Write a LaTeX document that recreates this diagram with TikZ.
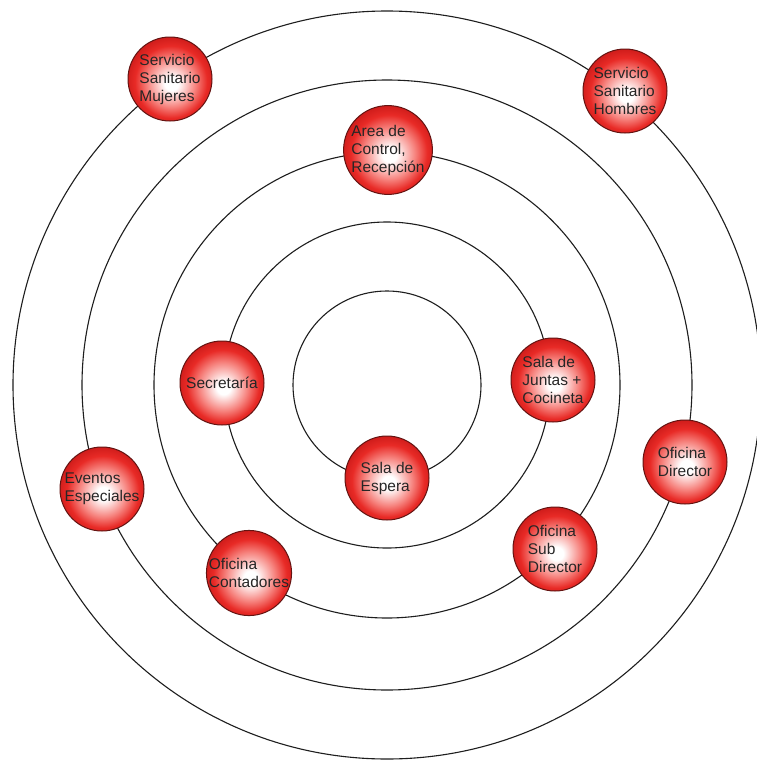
\documentclass[tikz,border=0pt]{standalone}
\usepackage{fontspec}
\setmainfont{Liberation Sans}
\definecolor{ballred}{RGB}{232,42,38}
\definecolor{balldeep}{RGB}{210,30,28}
\definecolor{balledge}{RGB}{100,20,18}
\definecolor{ballmid}{RGB}{246,130,125}
\definecolor{ringcol}{RGB}{30,30,30}
\pgfdeclareradialshading{ballshade}{\pgfpoint{1bp}{-3bp}}{color(0bp)=(white); color(4bp)=(white); color(14.5bp)=(ballmid); color(21.5bp)=(ballred); color(26bp)=(balldeep); color(50bp)=(balldeep)}
\tikzset{
  ring/.style={draw=ringcol, line width=1.1pt},
  ball/.style={circle, draw=balledge, line width=1pt, shade, shading=ballshade,
    minimum size=84pt, inner sep=0pt, align=left,
    font=\fontsize{15.5}{18}\selectfont, text=black!85}
}
\begin{document}
\begin{tikzpicture}[x=1pt,y=-1pt]
\useasboundingbox (0,0) rectangle (757,763);
\clip (0,0) rectangle (757,763);
\fill[white] (0,0) rectangle (757,763);
\coordinate (c) at (387,385);
\foreach \r in {374,305,233,163,94} \draw[ring] (c) circle[radius=\r pt];
\node[ball] (mujeres) at (170,79) {Servicio\\Sanitario\\Mujeres};
\node[ball] (hombres) at (625,91) {Servicio\\Sanitario\\Hombres};
\node[ball] (area) at (388,150) {Area de\\Control,\\Recepción};
\node[ball] (secretaria) at (222,383) {Secretaría};
\node[ball] (juntas) at (553,380) {Sala de\\Juntas +\\Cocineta};
\node[ball] (espera) at (387,478) {Sala de\\Espera};
\node[ball] (eventos) at (102,489) {Eventos\\Especiales};
\node[ball] (contadores) at (249,573) {Oficina\\Contadores};
\node[ball] (subdirector) at (555,549) {Oficina\\Sub\\Director};
\node[ball] (director) at (685,462) {Oficina\\Director};
\end{tikzpicture}
\end{document}
